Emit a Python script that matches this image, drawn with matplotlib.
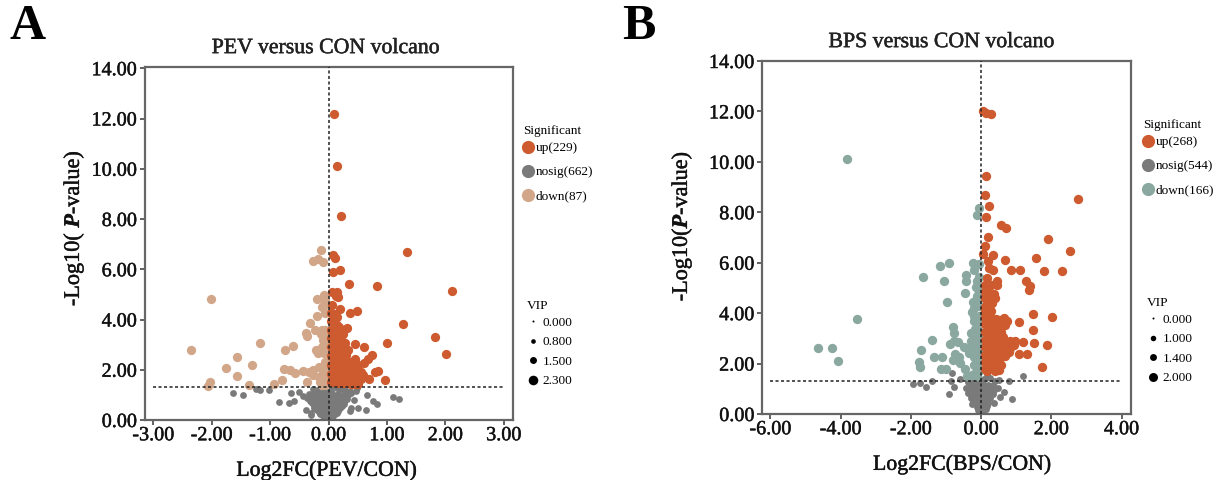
import matplotlib
matplotlib.use("Agg")
import matplotlib.pyplot as plt
import matplotlib.patheffects as pe
from matplotlib.lines import Line2D

plt.rcParams['font.family'] = ['Liberation Serif', 'DejaVu Serif']
plt.rcParams['mathtext.fontset'] = 'custom'
plt.rcParams['mathtext.bf'] = 'Liberation Serif:italic:bold'
plt.rcParams['mathtext.rm'] = 'Liberation Serif'

TITLES = ["PEV versus CON volcano", "BPS versus CON volcano"]
XLABELS = ["Log2FC(PEV/CON)", "Log2FC(BPS/CON)"]
YLABELS = [r"-Log10( $\mathbf{P}$-value)", r"-Log10($\mathbf{P}$-value)"]
XTICKS_A = [-3, -2, -1, 0, 1, 2, 3]
XTICKS_B = [-6, -4, -2, 0, 2, 4]
YTICKS = [0, 2, 4, 6, 8, 10, 12, 14]
THRESHOLD = 1.3

COUNTS_A = {"up": 229, "nosig": 662, "down": 87}
COUNTS_B = {"up": 268, "nosig": 544, "down": 166}
VIP_LEGEND_A = [0.0, 0.8, 1.5, 2.3]
VIP_LEGEND_B = [0.0, 1.0, 1.4, 2.0]

UP_COLOR = "#CE5A30"
NOSIG_COLOR = "#7A7A7A"
DOWN_A_COLOR = "#D2A688"
DOWN_B_COLOR = "#8AA89F"

# (log2FC, -log10 p)
up_a = [(0.10,12.16),(0.15,10.10),(0.21,8.12),(1.35,6.70),(0.07,6.56),(0.11,6.43),(0.20,5.97),(0.07,5.90),
 (0.35,5.42),(0.83,5.34),(2.11,5.13),(0.06,5.08),(0.14,5.08),(0.16,4.91),(0.12,4.95),(0.06,4.58),(0.19,4.42),
 (0.48,4.35),(0.36,4.24),(1.28,3.82),(1.82,3.30),(1.01,3.06),(2.02,2.64),(0.31,3.65),(0.46,3.01),(0.60,2.92),
 (0.74,2.60),(0.68,2.43),(0.61,2.28),(0.85,1.96),(0.79,1.91),(0.96,1.59),(0.69,1.62),(0.59,1.79),(0.46,2.43),
 (0.34,2.79),(0.28,3.05),(0.04,4.25),(0.10,4.22),(0.14,4.10),(0.04,3.95),(0.09,3.90),(0.14,3.80),(0.18,3.72),
 (0.04,3.60),(0.09,3.55),(0.14,3.50),(0.19,3.45),(0.24,3.42),(0.04,3.25),(0.09,3.20),(0.14,3.18),(0.19,3.15),
 (0.24,3.10),(0.04,2.90),(0.09,2.88),(0.14,2.85),(0.19,2.80),(0.25,2.78),(0.30,2.60),(0.04,2.55),(0.09,2.52),
 (0.14,2.50),(0.19,2.48),(0.25,2.42),(0.31,2.36),(0.38,2.30),(0.42,2.22),(0.50,2.20),(0.04,2.20),(0.09,2.18),
 (0.14,2.15),(0.19,2.12),(0.25,2.10),(0.31,2.05),(0.37,2.02),(0.43,1.98),(0.50,1.95),(0.55,1.92),(0.04,1.85),
 (0.09,1.82),(0.14,1.80),(0.20,1.78),(0.26,1.76),(0.32,1.74),(0.38,1.72),(0.44,1.70),(0.50,1.68),(0.56,1.65),
 (0.04,1.50),(0.09,1.50),(0.15,1.48),(0.21,1.48),(0.27,1.46),(0.33,1.46),(0.39,1.45),(0.45,1.44),(0.51,1.42)]
nosig_a = [(-1.63,1.07),(-1.46,1.01),(-1.24,1.22),(-1.17,1.21),(-1.02,1.19),(-0.84,0.70),(-0.68,0.66),(-0.59,0.77),
 (-0.64,1.06),(-0.50,1.10),(-0.44,0.97),(-0.39,0.38),(-0.30,0.19),(-0.30,0.27),(0.66,0.99),(0.44,0.81),(0.47,1.15),
 (0.48,1.26),(0.77,0.74),(0.83,0.64),(1.11,0.93),(1.21,0.82),(0.64,0.38),(0.50,0.48),(0.38,0.49),(0.36,0.37),
 (0.08,1.32),(0.14,1.28),(0.20,1.25),(0.02,1.24),(-0.08,1.22),(-0.20,1.20),(-0.27,1.24),(0.28,1.18),(0.36,1.14),
 (-0.33,1.05),(-0.25,1.05),(-0.14,1.06),(-0.04,1.08),(0.06,1.08),(0.16,1.05),(0.26,1.04),(0.34,1.00),(0.39,1.06),
 (-0.36,0.86),(-0.26,0.85),(-0.15,0.85),(-0.05,0.86),(0.05,0.86),(0.15,0.85),(0.24,0.84),(0.31,0.82),
 (-0.28,0.66),(-0.19,0.66),(-0.10,0.65),(0.00,0.66),(0.09,0.66),(0.18,0.64),(0.26,0.62),
 (-0.24,0.48),(-0.15,0.46),(-0.06,0.46),(0.04,0.46),(0.12,0.44),(0.20,0.46),
 (-0.17,0.30),(-0.09,0.29),(0.00,0.28),(0.08,0.30),(0.14,0.26),(-0.10,0.15),(-0.04,0.14),(0.03,0.12),(0.07,0.16),(-0.02,0.05),
 (-0.31,0.95),(-0.20,0.95),(-0.10,0.96),(0.00,0.96),(0.10,0.96),(0.20,0.95),(0.29,0.93),(-0.31,0.75),(-0.22,0.75),
 (-0.12,0.75),(-0.02,0.76),(0.07,0.75),(0.16,0.75),(0.27,0.73),(-0.24,0.56),(-0.14,0.56),(-0.05,0.56),(0.05,0.56),
 (0.14,0.55),(0.23,0.54),(-0.20,0.38),(-0.10,0.38),(0.00,0.37),(0.08,0.38),(0.17,0.36),(-0.14,0.22),(-0.05,0.21),(0.04,0.21),(0.11,0.22)]
down_a = [(-2.02,4.81),(-2.36,2.80),(-1.17,3.06),(-1.57,2.49),(-1.75,2.07),(-1.31,2.20),(-1.57,1.76),(-2.03,1.50),
 (-2.07,1.37),(-1.36,1.38),(-0.93,1.45),(-0.80,1.59),(-0.75,2.79),(-0.61,2.94),(-0.76,2.04),(-0.66,2.00),(-0.58,1.86),
 (-0.43,1.96),(-0.31,3.86),(-0.39,3.45),(-0.36,3.36),(-0.20,4.15),(-0.20,4.80),(-0.07,4.97),(-0.11,4.48),(-0.13,6.76),
 (-0.27,6.34),(-0.18,6.40),(-0.10,6.30),(-0.37,1.52),(-0.23,3.60),(-0.11,3.60),(-0.06,3.60),(-0.21,2.79),(-0.18,2.65),
 (-0.11,2.92),(-0.06,3.30),(-0.10,3.18),(-0.06,3.05),(-0.14,2.79),(-0.07,2.65),(-0.06,2.32),(-0.17,2.12),(-0.26,1.99),
 (-0.34,1.92),(-0.26,1.79),(-0.17,1.72),(-0.09,1.92),(-0.06,1.59),(-0.11,1.39),(-0.06,1.39),(-0.07,4.57),(-0.06,4.24),
 (-0.06,4.77),(-0.13,3.42),(-0.07,2.10),(-0.15,1.50)]

up_b = [(0.06,12.01),(0.27,11.88),(0.15,11.94),(0.15,9.42),(0.11,8.70),(0.22,8.24),(0.14,7.82),(2.75,8.51),(0.56,7.49),
 (0.70,7.39),(0.20,7.02),(1.91,6.96),(0.11,6.68),(2.52,6.47),(0.05,6.36),(0.33,6.32),(1.55,6.18),(0.67,6.11),(0.19,6.06),
 (0.23,5.79),(0.35,5.73),(0.84,5.71),(1.12,5.71),(1.79,5.69),(2.31,5.66),(1.27,5.26),(1.38,5.07),(1.36,4.91),(0.44,5.29),
 (0.44,5.13),(0.27,5.13),(0.17,5.40),(0.36,4.76),(0.41,4.60),(0.25,4.74),(0.17,4.40),(0.28,4.07),(0.12,4.07),(0.64,3.81),
 (0.74,3.68),(1.47,3.96),(2.02,3.84),(1.08,3.66),(0.69,3.52),(1.49,3.35),(1.50,2.82),(1.87,2.72),(1.18,2.86),(0.98,2.91),
 (0.83,2.91),(0.93,2.75),(0.83,2.62),(0.79,2.46),(1.07,2.38),(1.31,2.38),(0.67,2.29),(1.74,1.85),(0.57,1.96),(0.50,1.76),
 (0.41,1.69),(0.27,1.83),(0.12,5.10),(0.10,4.85),(0.18,4.90),(0.10,4.60),(0.20,4.55),(0.30,4.40),(0.10,4.25),(0.22,4.22),
 (0.10,3.85),(0.20,3.80),(0.30,3.78),(0.42,3.76),(0.52,3.72),(0.10,3.55),(0.20,3.52),(0.30,3.50),(0.42,3.48),(0.54,3.46),
 (0.10,3.25),(0.20,3.22),(0.30,3.20),(0.42,3.18),(0.54,3.15),(0.10,2.95),(0.20,2.92),(0.32,2.90),(0.44,2.88),(0.56,2.86),
 (0.68,2.84),(0.10,2.65),(0.20,2.62),(0.32,2.60),(0.44,2.58),(0.58,2.56),(0.10,2.35),(0.20,2.32),(0.32,2.30),(0.44,2.28),
 (0.10,2.05),(0.20,2.02),(0.32,2.00),(0.44,1.98),(0.10,1.78),(0.18,1.72),(0.58,3.25),(0.62,3.05),(0.66,2.72),(0.54,2.40),
 (0.50,2.15),(0.36,2.15),(0.30,1.85)]
nosig_b = [(-0.83,1.64),(-1.39,1.32),(-1.95,1.20),(-1.75,1.22),(-1.56,1.07),(-0.87,1.32),(-0.78,1.08),(-0.90,0.78),
 (-0.61,1.40),(1.19,1.49),(0.79,1.32),(0.50,1.36),(0.41,1.30),(0.66,0.89),(0.88,0.61),(0.53,0.67),(0.36,0.44),
 (0.18,1.58),(0.26,1.42),(0.08,1.38),(-0.04,1.36),(-0.20,1.38),(-0.38,1.28),(-0.25,1.18),(-0.10,1.18),(0.06,1.18),(0.20,1.16),
 (0.34,1.14),(-0.44,1.05),(-0.32,1.00),(-0.18,1.00),(-0.04,1.00),(0.10,1.00),(0.24,0.98),(0.38,0.96),(0.48,1.02),
 (-0.36,0.84),(-0.24,0.82),(-0.12,0.82),(0.00,0.82),(0.12,0.82),(0.24,0.80),(0.35,0.78),(-0.28,0.64),(-0.18,0.64),
 (-0.06,0.62),(0.06,0.64),(0.16,0.62),(0.26,0.62),(-0.22,0.46),(-0.12,0.44),(0.00,0.44),(0.10,0.46),(0.20,0.44),
 (-0.25,0.38),(-0.12,0.28),(-0.02,0.28),(0.08,0.28),(0.18,0.30),(-0.08,0.14),(0.00,0.12),(0.08,0.14),(0.14,0.18),(0.03,0.04),
 (-0.30,1.10),(-0.15,1.10),(0.00,1.10),(0.14,1.10),(0.30,1.08),(-0.30,0.92),(-0.15,0.92),(0.00,0.92),(0.15,0.90),(0.30,0.90),
 (-0.20,0.72),(-0.08,0.72),(0.05,0.72),(0.18,0.72),(-0.15,0.54),(-0.04,0.54),(0.08,0.54),(-0.08,0.36),(0.03,0.36),(0.12,0.36)]
down_b = [(-3.81,10.13),(-3.52,3.78),(-4.64,2.63),(-4.26,2.62),(-4.07,2.10),(-0.90,5.99),(-1.18,5.87),(-1.65,5.45),
 (-1.06,5.29),(-0.47,4.81),(-0.97,4.46),(-0.23,5.97),(-0.07,5.93),(-0.42,5.53),(-0.42,5.29),(-0.19,5.73),(-0.11,5.26),
 (-0.05,8.17),(-0.11,7.90),(-0.02,4.81),(-0.11,4.68),(-0.21,4.22),(-0.26,4.03),(-0.19,3.90),(-0.07,4.28),(-0.07,3.90),
 (-0.11,3.62),(-0.80,3.47),(-0.76,3.21),(-1.40,2.92),(-1.72,2.54),(-1.77,2.06),(-1.74,1.88),(-1.35,2.25),(-1.10,2.27),
 (-1.14,1.77),(-1.00,1.80),(-0.89,2.76),(-0.76,2.88),(-0.66,2.86),(-0.75,2.39),(-0.80,2.16),(-0.64,2.25),(-0.61,2.02),
 (-0.46,1.79),(-0.35,2.42),(-0.49,2.65),(-0.30,3.20),(-0.30,2.88),(-0.25,2.62),(-0.11,3.00),(-0.11,2.36),(-0.11,1.96),
 (-0.25,1.56),(-0.11,1.50),(-0.40,1.50),(-0.07,5.45),(-0.14,5.05),(-0.08,4.95),(-0.15,4.50),(-0.22,4.45),(-0.08,4.55),
 (-0.17,3.38),(-0.08,3.35),(-0.20,3.05),(-0.06,3.15),(-0.20,2.25),(-0.07,2.70),(-0.20,1.95),(-0.07,2.25),(-0.07,1.70),
 (-0.20,3.70),(-0.08,3.70),(-0.25,2.80),(-0.14,2.80),(-0.07,2.50),(-0.18,2.45),(-0.10,2.10),(-0.10,1.75),(-0.20,1.60)]

VIP_UP_A, VIP_NOSIG_A, VIP_DOWN_A = 2.2, 1.45, 2.2
VIP_UP_B, VIP_NOSIG_B, VIP_DOWN_B = 2.1, 1.4, 2.1

W, H = 1220, 480
fig = plt.figure(figsize=(W / 100, H / 100), dpi=100, facecolor="white")
STROKE = [pe.withStroke(linewidth=0.35, foreground="#222222")]


def area(vip, k):
    return ((2 + k * vip) * 0.72) ** 2


def make_axes(l, r, t, b):
    return fig.add_axes([l / W, 1 - b / H, (r - l) / W, (b - t) / H])


def panel(ax, groups, xticks, xlim, hspan, title, xlabel, ylabel, k, ylim, label_x, label_y, title_x, xlabel_x, xpad):
    for pts, vip, col in groups:
        xs, ys = zip(*pts)
        ax.scatter(xs, ys, s=area(vip, k), c=col, linewidths=0, zorder=2)
    ax.set_xlim(*xlim)
    ax.set_ylim(*ylim)
    ax.plot(hspan, [THRESHOLD, THRESHOLD], color="#222222", lw=1.1, ls=(0, (2, 1.6)), zorder=3)
    ax.axvline(0, color="#222222", lw=1.1, ls=(0, (2, 1.6)), zorder=3)
    ax.set_xticks(xticks, [f"{v:.2f}" for v in xticks])
    ax.set_yticks(YTICKS, [f"{v:.2f}" for v in YTICKS])
    ax.tick_params(labelsize=14.5, length=3.5, width=1.3, color="#555555", labelcolor="#111111")
    ax.tick_params(axis="x", pad=1)
    ax.tick_params(axis="y", pad=2)
    for s in ax.spines.values():
        s.set_color("#666666")
        s.set_linewidth(1.6)
    ax.set_title(title, fontsize=15.7, color="#222222", pad=10, x=title_x)
    ax.set_xlabel(xlabel, fontsize=15.7, color="#111111", labelpad=xpad, x=xlabel_x)
    ax.set_ylabel(ylabel, fontsize=16, color="#111111")
    ax.yaxis.set_label_coords(label_x / W, 1 - label_y / H, transform=fig.transFigure)
    for t in ax.get_xticklabels() + ax.get_yticklabels() + [ax.xaxis.label, ax.yaxis.label, ax.title]:
        t.set_path_effects(STROKE)


def legends(ax, counts, colors, vips, k, sig_xy, vip_xy):
    hs = [Line2D([], [], ls="", marker="o", ms=9.5, mfc=c, mec="none", label=f"{n}({counts[n]})")
          for n, c in colors]
    leg = ax.legend(handles=hs, title="Significant", loc="upper left", frameon=False, fontsize=9.5, title_fontsize=9.5,
                    bbox_to_anchor=(sig_xy[0] / W, 1 - sig_xy[1] / H), bbox_transform=fig.transFigure,
                    labelspacing=0.9, handletextpad=0.2, borderpad=0, borderaxespad=0, handlelength=0.76)
    leg._legend_box.align = "left"
    leg._legend_box.sep = 3.6
    ax.add_artist(leg)
    hs2 = [Line2D([], [], ls="", marker="o", ms=max(area(v, k) ** 0.5, 1.2), mfc="black", mec="none", label=f"{v:.3f}")
           for v in vips]
    leg2 = ax.legend(handles=hs2, title="VIP", loc="upper left", frameon=False, fontsize=9.5, title_fontsize=9.5,
                     bbox_to_anchor=(vip_xy[0] / W, 1 - vip_xy[1] / H), bbox_transform=fig.transFigure,
                     labelspacing=0.54, handletextpad=0.3, borderpad=0, borderaxespad=0, handlelength=0.9)
    leg2._legend_box.align = "left"
    leg2._legend_box.sep = 3.5


axA = make_axes(144.5, 512.5, 67, 420)
panel(axA, [(nosig_a, VIP_NOSIG_A, NOSIG_COLOR), (down_a, VIP_DOWN_A, DOWN_A_COLOR), (up_a, VIP_UP_A, UP_COLOR)],
      XTICKS_A, (-3.15, 3.15), (-3.0, 3.02), TITLES[0], XLABELS[0], YLABELS[0], 3.3, (0, 14.05), 86, 228, 0.492, 0.4946, 11.4)
legends(axA, COUNTS_A, [("up", UP_COLOR), ("nosig", NOSIG_COLOR), ("down", DOWN_A_COLOR)], VIP_LEGEND_A, 3.3,
        (523, 125), (527, 300))

axB = make_axes(762, 1131, 61, 414)
panel(axB, [(nosig_b, VIP_NOSIG_B, NOSIG_COLOR), (down_b, VIP_DOWN_B, DOWN_B_COLOR), (up_b, VIP_UP_B, UP_COLOR)],
      XTICKS_B, (-6.24, 4.27), (-6.0, 4.0), TITLES[1], XLABELS[1], YLABELS[1], 3.5, (0, 14.0), 694, 226, 0.486, 0.542, 11.4)
legends(axB, COUNTS_B, [("up", UP_COLOR), ("nosig", NOSIG_COLOR), ("down", DOWN_B_COLOR)], VIP_LEGEND_B, 3.5,
        (1143, 119), (1147, 297))

fig.text(10 / W, 1 - 39 / H, "A", fontsize=36, fontweight="bold", color="black", va="baseline")
fig.text(622 / W, 1 - 39 / H, "B", fontsize=36, fontweight="bold", color="black", va="baseline")

fig.savefig("out.png", dpi=100)
